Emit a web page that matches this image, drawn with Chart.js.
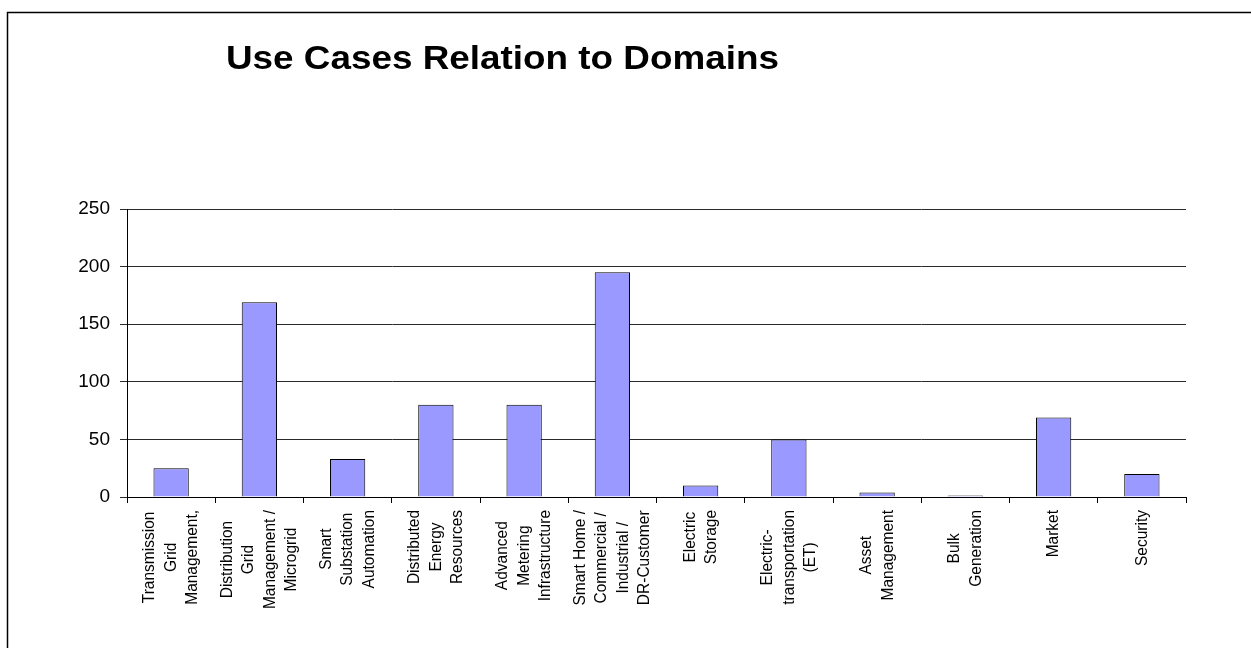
<!DOCTYPE html>
<html>
<head>
<meta charset="utf-8">
<script src="https://cdn.jsdelivr.net/npm/chart.js@4/dist/chart.umd.min.js"></script>
<style>
  html, body { margin: 0; padding: 0; background: #fff; }
  #wrap { width: 1251px; height: 648px; position: relative; }
</style>
</head>
<body>
<div id="wrap"><canvas id="c" width="1251" height="648"></canvas></div>
<script>
const chartTitle = "Use Cases Relation to Domains";
const categories = [
  ["Transmission", "Grid", "Management,"],
  ["Distribution", "Grid", "Management /", "Microgrid"],
  ["Smart", "Substation", "Automation"],
  ["Distributed", "Energy", "Resources"],
  ["Advanced", "Metering", "Infrastructure"],
  ["Smart Home /", "Commercial /", "Industrial /", "DR-Customer"],
  ["Electric", "Storage"],
  ["Electric-", "transportation", "(ET)"],
  ["Asset", "Management"],
  ["Bulk", "Generation"],
  ["Market"],
  ["Security"]
];
const useCaseCounts = [25, 169, 33, 80, 80, 195, 10, 50, 4, 1.3, 69, 20];
const yTicks = [0, 50, 100, 150, 200, 250];

const FONT = '"Liberation Sans", Arial, sans-serif';

const decorPlugin = {
  id: 'decor',
  beforeDraw(chart) {
    const ctx = chart.ctx;
    ctx.save();
    ctx.fillStyle = '#fff';
    ctx.fillRect(0, 0, chart.width, chart.height);
    ctx.strokeStyle = '#000';
    ctx.lineWidth = 1.5;
    ctx.beginPath();
    ctx.moveTo(7.5, chart.height);
    ctx.lineTo(7.5, 12.5);
    ctx.lineTo(chart.width, 12.5);
    ctx.stroke();
    ctx.restore();
  },
  afterDraw(chart) {
    const ctx = chart.ctx;
    // title
    ctx.save();
    ctx.fillStyle = '#000';
    ctx.font = 'bold 33.5px ' + FONT;
    ctx.textAlign = 'left';
    ctx.textBaseline = 'alphabetic';
    ctx.translate(226, 69);
    ctx.scale(1.1, 1);
    ctx.fillText(chartTitle, 0, 0);
    ctx.restore();
    // x labels (rotated, multi-line, centered lines)
    const xs = chart.scales.x;
    ctx.save();
    ctx.fillStyle = '#000';
    ctx.font = '15.5px ' + FONT;
    const top = 510;
    const lineGap = 21.5;
    categories.forEach((lines, i) => {
      const cx = xs.getPixelForValue(i);
      let maxW = 0;
      lines.forEach(l => { maxW = Math.max(maxW, ctx.measureText(l).width); });
      const cy = top + maxW / 2;
      const n = lines.length;
      lines.forEach((l, j) => {
        const lx = cx + (j - (n - 1) / 2) * lineGap;
        ctx.save();
        ctx.translate(lx, cy);
        ctx.rotate(-Math.PI / 2);
        ctx.scale(1, 1.1);
        ctx.textAlign = 'center';
        ctx.textBaseline = 'middle';
        ctx.fillText(l, 0, 0);
        ctx.restore();
      });
    });
    ctx.restore();
  }
};

new Chart(document.getElementById('c'), {
  type: 'bar',
  data: {
    labels: categories.map(c => c.join(' ')),
    datasets: [{
      data: useCaseCounts,
      backgroundColor: '#9999ff',
      borderColor: '#000',
      borderWidth: 1,
      barPercentage: 0.4,
      categoryPercentage: 1.0
    }]
  },
  options: {
    responsive: false,
    devicePixelRatio: 1,
    animation: false,
    layout: { padding: { left: 0, right: 65, top: 209, bottom: 141 } },
    plugins: {
      legend: { display: false },
      title: { display: false },
      tooltip: { enabled: false }
    },
    scales: {
      x: {
        offset: true,
        grid: { display: true, drawOnChartArea: false, drawTicks: true, tickLength: 6, color: '#000', offset: true },
        border: { display: true, color: '#000', width: 1 },
        ticks: { display: false },
        afterFit(scale) { scale.height = 10; }
      },
      y: {
        min: 0,
        max: 250,
        afterBuildTicks(scale) { scale.ticks = yTicks.map(v => ({ value: v })); },
        grid: { color: '#2a2a2a', lineWidth: 1, drawTicks: true, tickLength: 7 },
        border: { display: true, color: '#000', width: 1 },
        ticks: { color: '#000', font: { family: FONT, size: 19 }, padding: 10 },
        afterFit(scale) { scale.width = 127; }
      }
    }
  },
  plugins: [decorPlugin]
});
</script>
</body>
</html>
